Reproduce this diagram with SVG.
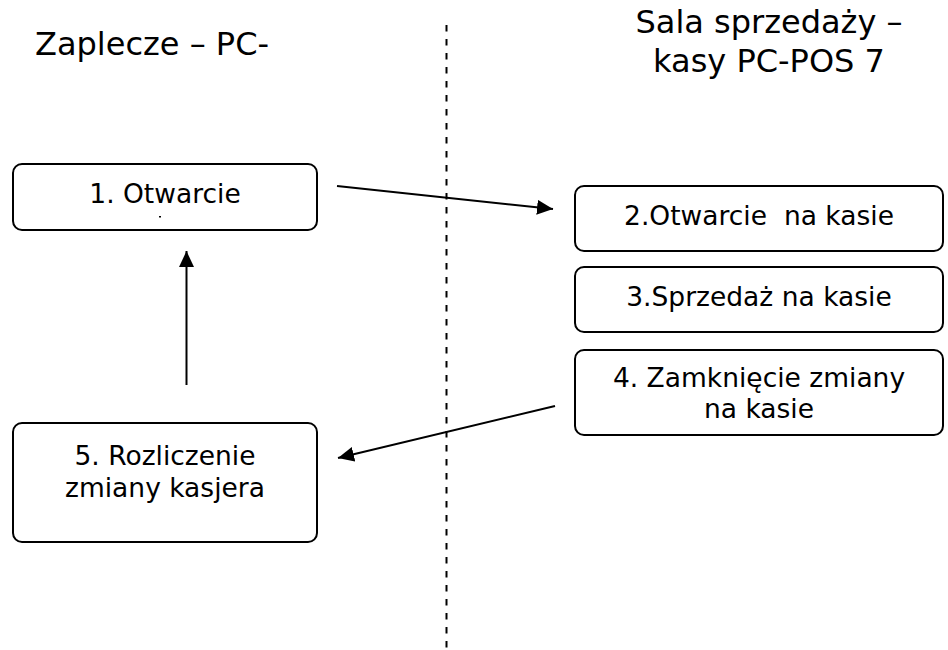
<svg xmlns="http://www.w3.org/2000/svg" width="948" height="650" viewBox="0 0 948 650">
<style>
.box{fill:#fff;stroke:#000;stroke-width:2}
.t{font-family:"DejaVu Sans","Verdana",sans-serif;font-size:26.5px;fill:#000;text-anchor:middle;white-space:pre}
.h{font-family:"DejaVu Sans","Verdana",sans-serif;font-size:32px;fill:#000}
.c{stroke:#000;stroke-width:2;fill:none}
</style>
<defs>
<marker id="ah" markerUnits="userSpaceOnUse" markerWidth="18" markerHeight="16" refX="16" refY="7.5" orient="auto">
<path d="M0,0 L16,7.5 L0,15 Z" fill="#000"/>
</marker>
</defs>
<rect width="948" height="650" fill="#fff"/>
<g id="headers">
<text class="h" x="35" y="55">Zaplecze – PC-</text>
<text class="h" x="769" y="33" text-anchor="middle">Sala sprzedaży –</text>
<text class="h" x="769" y="72" text-anchor="middle">kasy PC-POS 7</text>
</g>
<g id="divider">
<line x1="446.5" y1="25" x2="446.5" y2="648" stroke="#000" stroke-width="2" stroke-dasharray="6.5 7.5"/>
</g>
<g id="connectors">
<line class="c" x1="337" y1="186" x2="553" y2="209" marker-end="url(#ah)"/>
<line class="c" x1="555" y1="406" x2="338" y2="458" marker-end="url(#ah)"/>
<line class="c" x1="186.5" y1="385" x2="186.5" y2="251" marker-end="url(#ah)"/>
</g>
<g id="n1">
<rect class="box" x="13" y="164" width="304" height="66" rx="9"/>
<text class="t" x="165" y="203">1. Otwarcie</text>
<rect x="159" y="216" width="2" height="1.5" fill="#000"/>
</g>
<g id="n2">
<rect class="box" x="575" y="186" width="368" height="65" rx="9"/>
<text class="t" x="759" y="225">2.Otwarcie  na kasie</text>
</g>
<g id="n3">
<rect class="box" x="575" y="267" width="368" height="65" rx="9"/>
<text class="t" x="759" y="306">3.Sprzedaż na kasie</text>
</g>
<g id="n4">
<rect class="box" x="575" y="350" width="368" height="85" rx="9"/>
<text class="t" x="759" y="387">4. Zamknięcie zmiany</text>
<text class="t" x="759" y="418">na kasie</text>
</g>
<g id="n5">
<rect class="box" x="13" y="423" width="304" height="119" rx="9"/>
<text class="t" x="165" y="465">5. Rozliczenie</text>
<text class="t" x="165" y="497">zmiany kasjera</text>
</g>
</svg>
